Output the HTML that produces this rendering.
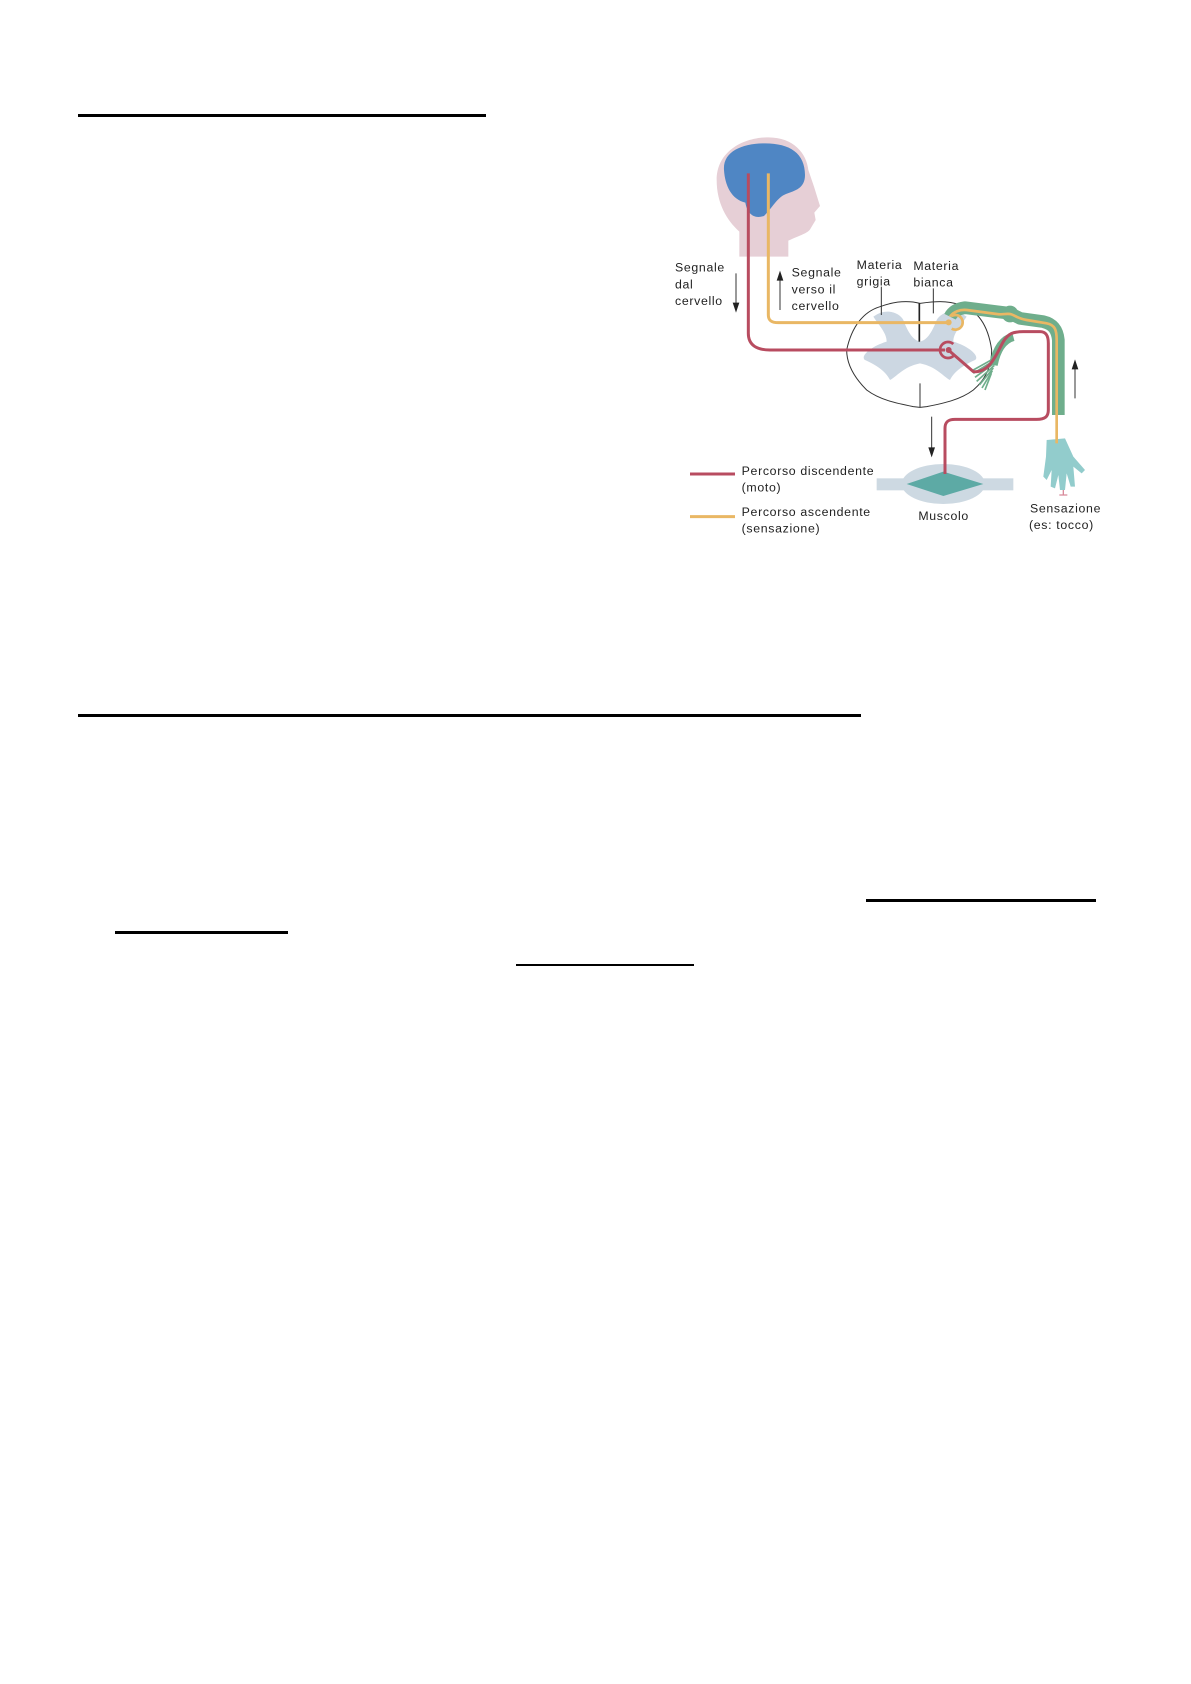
<!DOCTYPE html>
<html><head><meta charset="utf-8"><style>
html,body{margin:0;padding:0;background:#fff;}
body{width:1191px;height:1684px;position:relative;overflow:hidden;font-family:"Liberation Sans",sans-serif;}
.l{position:absolute;background:#000;}
svg{position:absolute;left:660px;top:120px;}
svg text{font-family:"Liberation Sans",sans-serif;font-size:37px;fill:#222;letter-spacing:2px;}
</style></head><body>
<div class="l" style="left:78px;top:114px;width:408px;height:3px"></div>
<div class="l" style="left:78px;top:714px;width:783px;height:3px"></div>
<div class="l" style="left:866px;top:899px;width:230px;height:3px"></div>
<div class="l" style="left:115px;top:931px;width:173px;height:3px"></div>
<div class="l" style="left:516px;top:964px;width:178px;height:2px"></div>

<svg width="460" height="430" viewBox="0 0 1380 1290">
<!-- head -->
<path d="M238 410 L238 335 C200 300 170 250 170 180 C170 100 240 55 320 52 C400 50 440 100 445 150 L462 200 L480 258 L463 278 L467 300 L452 325 C445 340 420 345 385 362 L385 410 Z" fill="#e6cfd6"/>
<path d="M192 150 C188 95 245 70 315 70 C390 70 435 100 435 165 C435 205 405 212 378 222 C352 232 338 262 312 288 C282 298 262 282 256 248 C215 238 195 198 192 150 Z" fill="#4f86c4"/>
<!-- muscle -->
<rect x="650" y="1075" width="410" height="36" fill="#cdd9e2"/>
<ellipse cx="850" cy="1092" rx="125" ry="60" fill="#cdd9e2"/>
<path d="M740 1092 L850 1055 L970 1092 L850 1128 Z" fill="#5daaa5"/>
<!-- hand -->
<path d="M1160 960 L1215 955 L1240 1010 L1275 1050 L1265 1060 L1240 1040 L1245 1100 L1232 1100 L1220 1060 L1215 1110 L1200 1110 L1195 1065 L1185 1105 L1172 1100 L1175 1050 L1160 1080 L1150 1070 L1158 1010 Z" fill="#92cccc"/>
<path d="M1210 1110 L1210 1125 M1198 1125 L1222 1125" stroke="#d88a9a" stroke-width="4"/>
<!-- spinal cord -->
<path d="M780 550 C740 540 700 545 660 560 C610 575 575 620 560 690 C560 740 590 780 620 810 C660 840 710 850 760 860 L780 862 L800 860 C850 850 900 840 940 810 C975 780 995 740 995 690 C985 620 955 570 900 555 C860 540 820 545 780 550 Z" fill="#fff" stroke="#333" stroke-width="3"/>
<path d="M640 590 C680 560 720 580 730 600 C745 640 760 660 780 665 C800 660 815 640 830 600 C840 580 880 560 920 590 C900 620 880 640 880 665 C930 680 960 710 945 720 C900 740 880 760 870 780 C850 770 830 740 780 730 C730 740 710 770 690 780 C680 760 660 740 615 720 C600 710 630 680 680 665 C680 640 660 620 640 590 Z" fill="#ccd7e2"/>
<path d="M778 550 L778 665" stroke="#222" stroke-width="5"/>
<path d="M780 790 L780 862" stroke="#333" stroke-width="3"/>
<!-- green band -->
<path d="M870 590 C880 570 900 565 915 563 L1010 575 L1050 580 L1080 595 L1150 605 C1180 612 1192 630 1195 660 L1195 885" fill="none" stroke="#6fae8c" stroke-width="38" stroke-linejoin="round"/>
<circle cx="1050" cy="582" r="25" fill="#6fae8c"/>
<path d="M1000 735 C1010 685 1030 658 1060 650" fill="none" stroke="#6fae8c" stroke-width="26"/>
<g stroke="#6fae8c" stroke-width="5" fill="none">
<path d="M1005 720 L940 760"/><path d="M1005 728 L945 772"/><path d="M1003 736 L950 784"/><path d="M1000 744 L958 795"/><path d="M997 752 L966 804"/><path d="M994 760 L975 810"/><path d="M1008 712 L940 750"/>
</g>
<!-- red path -->
<path d="M265 160 L265 640 C265 675 290 690 330 690 L855 690" fill="none" stroke="#b84c60" stroke-width="9"/>
<path d="M865 690 L940 755 C990 760 1010 700 1030 665 C1045 640 1060 635 1090 635 L1140 635 C1160 635 1165 650 1165 670 L1165 870 C1165 890 1155 898 1130 898 L885 898 C865 898 855 905 855 925 L855 1062" fill="none" stroke="#b84c60" stroke-width="9" stroke-linejoin="round"/>
<circle cx="866" cy="690" r="9" fill="#b84c60"/>
<path d="M880 672 A24 24 0 1 0 880 708" fill="none" stroke="#b84c60" stroke-width="8"/>
<!-- yellow path -->
<path d="M325 160 L325 585 C325 602 335 608 355 608 L865 608" fill="none" stroke="#e9b764" stroke-width="9"/>
<path d="M870 590 C880 575 900 568 920 570 L1010 582 C1030 585 1035 580 1050 582 C1065 585 1070 595 1100 600 L1160 610 C1185 615 1190 630 1190 660 L1190 970" fill="none" stroke="#e9b764" stroke-width="8" stroke-linejoin="round"/>
<circle cx="866" cy="607" r="9" fill="#e9b764"/>
<path d="M875 588 A22 22 0 1 1 875 626" fill="none" stroke="#e9b764" stroke-width="8"/>
<!-- label ticks -->
<path d="M664 500 L664 585 M820 505 L820 580" stroke="#333" stroke-width="3"/>
<!-- arrows -->
<path d="M228 460 L228 550" stroke="#333" stroke-width="3"/><path d="M218 548 L238 548 L228 578 Z" fill="#222"/>
<path d="M360 570 L360 480" stroke="#333" stroke-width="3"/><path d="M350 482 L370 482 L360 452 Z" fill="#222"/>
<path d="M815 890 L815 985" stroke="#333" stroke-width="3"/><path d="M805 982 L825 982 L815 1012 Z" fill="#222"/>
<path d="M1245 835 L1245 745" stroke="#333" stroke-width="3"/><path d="M1235 748 L1255 748 L1245 718 Z" fill="#222"/>
<!-- legend -->
<path d="M90 1062 L225 1062" stroke="#b84c60" stroke-width="9"/>
<path d="M90 1190 L225 1190" stroke="#e9b764" stroke-width="9"/>
<!-- text -->
<text x="45" y="455">Segnale</text><text x="45" y="505">dal</text><text x="45" y="555">cervello</text>
<text x="395" y="470">Segnale</text><text x="395" y="520">verso il</text><text x="395" y="570">cervello</text>
<text x="590" y="447">Materia</text><text x="590" y="497">grigia</text>
<text x="760" y="450">Materia</text><text x="760" y="500">bianca</text>
<text x="245" y="1065">Percorso discendente</text><text x="245" y="1115">(moto)</text>
<text x="245" y="1188">Percorso ascendente</text><text x="245" y="1238">(sensazione)</text>
<text x="775" y="1200">Muscolo</text>
<text x="1110" y="1177">Sensazione</text><text x="1107" y="1227">(es: tocco)</text>
</svg>
</body></html>
